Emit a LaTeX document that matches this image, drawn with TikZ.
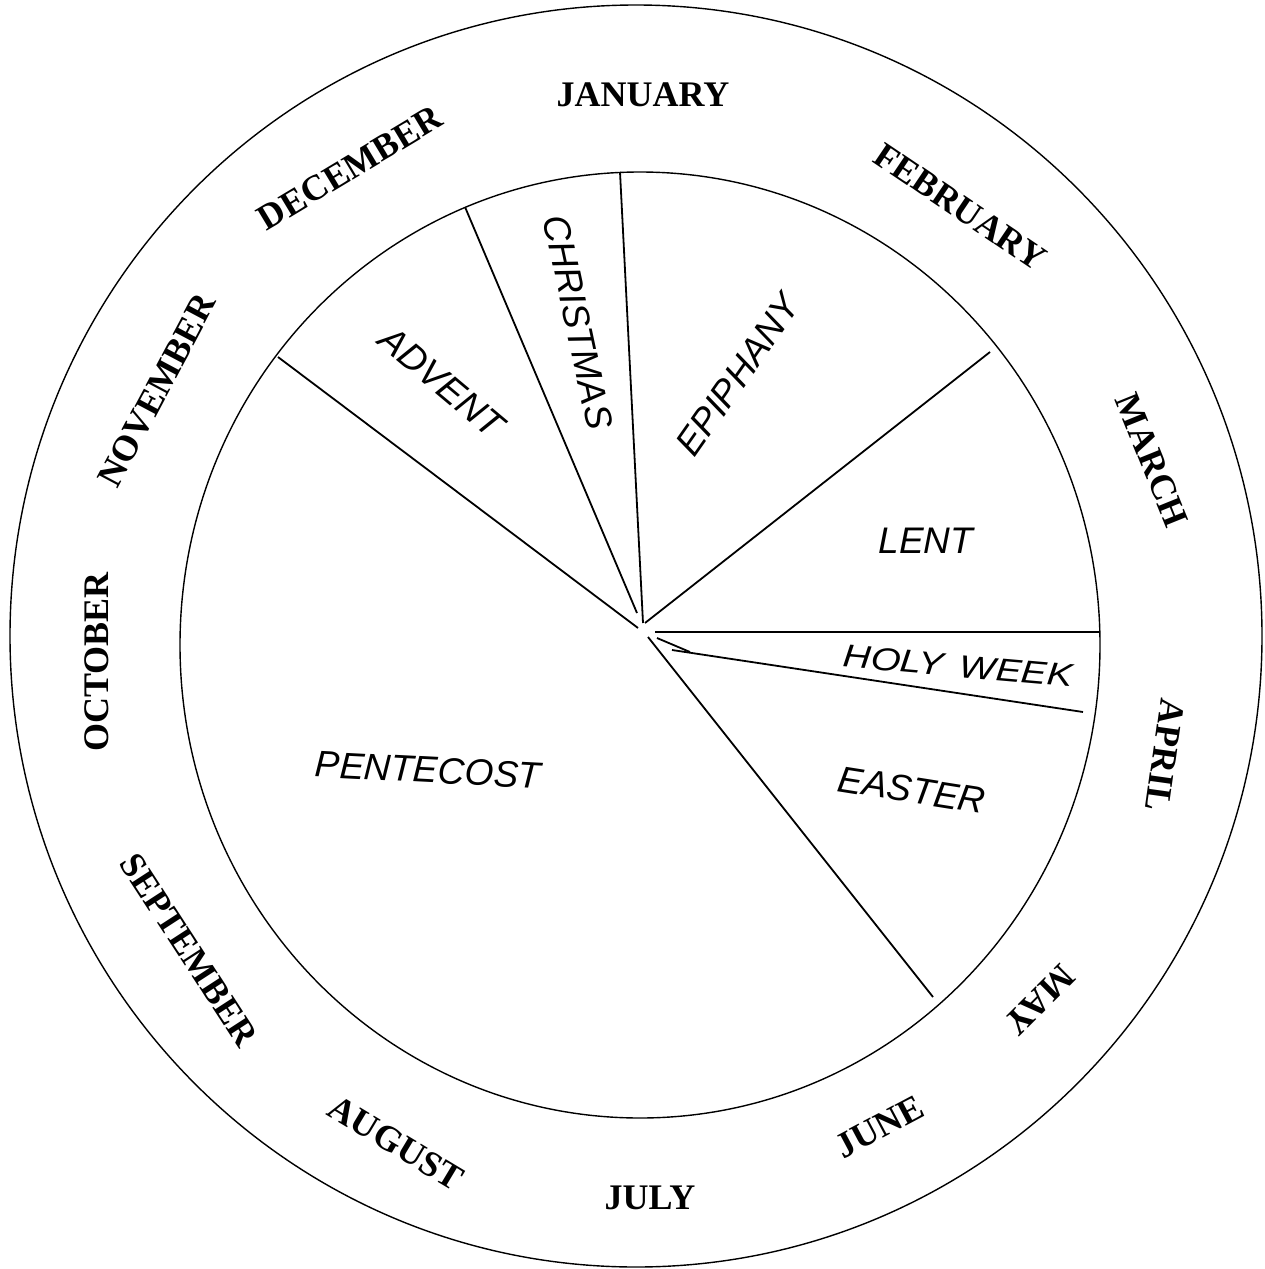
\documentclass[tikz,border=0pt]{standalone}
\usepackage{fontspec}
\setmainfont{Liberation Serif}
\newfontfamily\seasonfont{Liberation Sans}
\newfontfamily\seasonwide{Liberation Sans}[FakeStretch=1.2]
\begin{document}
\begin{tikzpicture}[x=1pt,y=-1pt,
  month/.style={font=\fontsize{36}{36}\selectfont\bfseries, inner sep=0pt},
  season/.style={font=\seasonfont\itshape\fontsize{37}{37}\selectfont, inner sep=0pt},
  ring/.style={line width=1.4pt},
  spoke/.style={line width=1.8pt}]
\useasboundingbox (0,0) rectangle (1264,1269);
\fill[white] (0,0) rectangle (1264,1269);
% circles
\draw[ring] (636,636) ellipse [x radius=626pt, y radius=631pt];
\draw[ring] (640,645) ellipse [x radius=460pt, y radius=473pt];
% spoke end points
\coordinate (r1) at (278,357); \coordinate (h1) at (638,628);
\coordinate (r2) at (465,207); \coordinate (h2) at (637,613);
\coordinate (r3) at (620,172); \coordinate (h3) at (643,623);
\coordinate (r4) at (990,352); \coordinate (h4) at (645,623);
\coordinate (r5) at (1100,632); \coordinate (h5) at (655,632);
\coordinate (r6) at (1083,712); \coordinate (h6) at (672,650);
\coordinate (r7) at (933,997); \coordinate (h7) at (648,637);
\coordinate (s1) at (657,638); \coordinate (s2) at (690,652);
\draw[spoke] (h1) -- (r1);
\draw[spoke] (h2) -- (r2);
\draw[spoke] (h3) -- (r3);
\draw[spoke] (h4) -- (r4);
\draw[spoke] (h5) -- (r5);
\draw[spoke] (h6) -- (r6);
\draw[spoke] (h7) -- (r7);
\draw[spoke] (s1) -- (s2);
% months
\node[month] (jan) at (643,95) {JANUARY};
\node[month, rotate=-34] (feb) at (960,207) {FEBRUARY};
\node[month, rotate=-68] (mar) at (1152,460) {MARCH};
\node[month, rotate=-98] (apr) at (1165,755) {APRIL};
\node[month, rotate=-135] (may) at (1040,1000) {MAY};
\node[month, rotate=28] (jun) at (880,1127) {JUNE};
\node[month] (jul) at (650,1198) {JULY};
\node[month, rotate=-31] (aug) at (396,1143) {AUGUST};
\node[month, rotate=-57] (sep) at (189,950) {SEPTEMBER};
\node[month, rotate=90] (oct) at (97,662) {OCTOBER};
\node[month, rotate=62] (nov) at (157,390) {NOVEMBER};
\node[month, rotate=31] (dec) at (350,168) {DECEMBER};
% seasons
\node[season, rotate=-40] (advent) at (442,382) {ADVENT};
\node[season, rotate=-78] (christmas) at (578,322) {CHRISTMAS};
\node[season, rotate=55] (epiphany) at (738,375) {EPIPHANY};
\node[season] (lent) at (926,541) {LENT};
\node[season, rotate=-5, font=\seasonwide\itshape\fontsize{32}{32}\selectfont] (holyweek) at (958,666) {HOLY\hspace{0.5em}WEEK};
\node[season, rotate=-9] (easter) at (912,790) {EASTER};
\node[season, rotate=-3] (pentecost) at (428,770) {PENTECOST};
\end{tikzpicture}
\end{document}
